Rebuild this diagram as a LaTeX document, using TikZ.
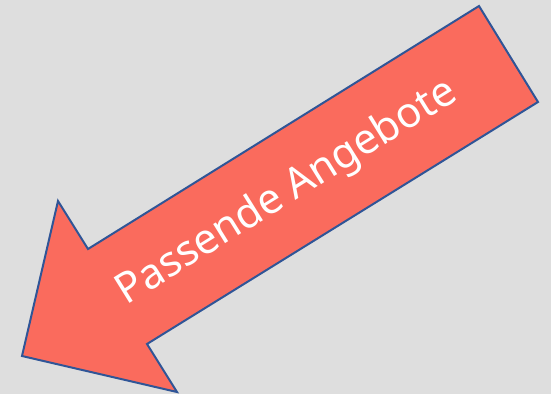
\documentclass[tikz,border=0pt]{standalone}
\usepackage{fontspec}
\setmainfont{Noto Sans}
\definecolor{bg}{HTML}{DEDEDE}
\definecolor{arrowfill}{HTML}{FA6B5D}
\definecolor{arrowline}{HTML}{2F5597}
\begin{document}
\begin{tikzpicture}[x=1pt,y=-1pt,
  arrowshape/.style={fill=arrowfill,draw=arrowline,line width=2pt,line join=miter},
  label/.style={text=white,font=\fontsize{42}{48}\selectfont,inner sep=0pt,anchor=base,rotate=31.9}]
\fill[bg] (0,0) rectangle (551,394);
\useasboundingbox (0,0) rectangle (551,394);
\draw[arrowshape] (479,6) -- (538,102) -- (147,344) -- (177,392) -- (22,356) -- (58,201) -- (88,249) -- cycle;
\node[label] (t) at (293,202) {Passende Angebote};
\end{tikzpicture}
\end{document}
